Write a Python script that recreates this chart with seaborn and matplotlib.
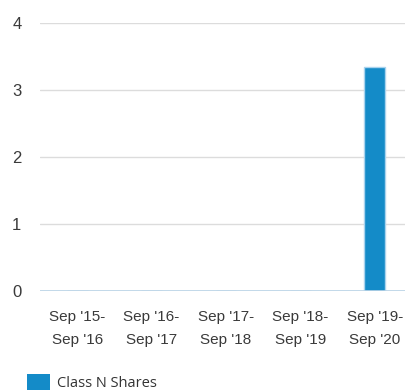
import matplotlib
matplotlib.use("Agg")
import matplotlib.pyplot as plt
import seaborn as sns
import pandas as pd
from matplotlib.patches import Patch

periods = ["Sep '15-\nSep '16", "Sep '16-\nSep '17", "Sep '17-\nSep '18",
           "Sep '18-\nSep '19", "Sep '19-\nSep '20"]
values = [0, 0, 0, 0, 3.34]
series_name = "Class N Shares"
y_ticks = [0, 1, 2, 3, 4]

df = pd.DataFrame({"period": periods, "value": values})

sns.set_theme(style="white")
plt.rcParams["font.family"] = ["Liberation Sans Narrow", "Liberation Sans", "DejaVu Sans"]

fig = plt.figure(figsize=(4.06, 3.91), dpi=100)
ax = fig.add_axes([40 / 406, 1 - 291 / 391, 372 / 406, 268 / 391])

sns.barplot(data=df, x="period", y="value", color="#148bc8", width=0.28,
            edgecolor="#a9d3ee", linewidth=1.0, ax=ax, zorder=3,
            saturation=1)

ax.set_ylim(0, 4)
ax.set_xlim(-0.5, 4.5)
ax.set_yticks(y_ticks)
ax.set_yticklabels([str(t) for t in y_ticks])
ax.yaxis.grid(True, color="#dcdcdc", linewidth=1.0, zorder=0)
ax.axhline(0, color="#b9d3e6", linewidth=1.2, zorder=4)
for s in ax.spines.values():
    s.set_visible(False)
ax.set_xlabel("")
ax.set_ylabel("")
ax.tick_params(axis="y", length=0, pad=20, labelsize=12, labelcolor="#3a3a3a")
ax.tick_params(axis="x", length=0, pad=14, labelsize=11, labelcolor="#3a3a3a")
for lab in ax.get_yticklabels():
    lab.set_horizontalalignment("left")
for lab in ax.get_xticklabels():
    lab.set_linespacing(1.78)

handle = Patch(facecolor="#148bc8", edgecolor="none")
leg = fig.legend([handle], [series_name], loc="lower left",
                 bbox_to_anchor=(14 / 406, -13 / 391), frameon=False,
                 handlelength=1.55, handleheight=1.3, handletextpad=0.5,
                 prop={"family": ["Open Sans", "DejaVu Sans"], "size": 10.5})
for t in leg.get_texts():
    t.set_color("#333333")

fig.savefig("out.png", dpi=100)
